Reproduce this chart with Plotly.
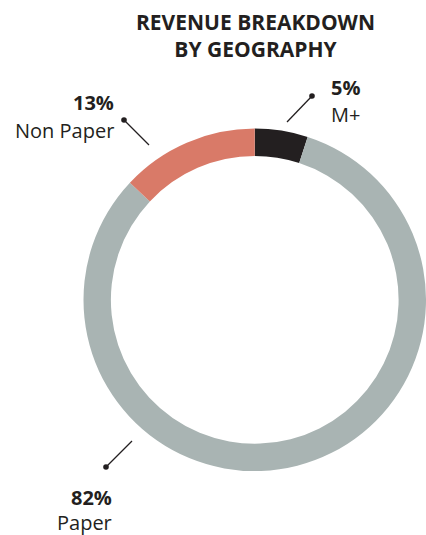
import plotly.graph_objects as go

# Revenue share by segment, listed clockwise from 12 o'clock
segments = ["M+", "Paper", "Non Paper"]
shares = [5, 82, 13]
colors = ["#231f20", "#a9b4b3", "#d97a68"]

W, H = 426, 535


def px(x):
    return x / W


def py(y):
    return 1 - y / H


fig = go.Figure(
    go.Pie(
        labels=segments,
        values=shares,
        hole=0.84,
        sort=False,
        direction="clockwise",
        rotation=0,
        marker=dict(colors=colors, line=dict(width=0)),
        textinfo="none",
        hoverinfo="label+percent",
        domain=dict(x=[0.196, 1.0], y=[0.118, 0.761]),
        showlegend=False,
    )
)

# Callout placement for each segment: text anchor, line gap, leader line (dot end first)
callouts = {
    "Non Paper": dict(tx=115, ty=102, gap=28, align="right", dot=(124, 120), end=(149, 145)),
    "M+": dict(tx=345, ty=88, gap=26, align="center", dot=(312, 96), end=(287, 122)),
    "Paper": dict(tx=113, ty=497, gap=25, align="right", dot=(106, 467), end=(132, 441)),
}

FONT = "Open Sans"
annotations = []
shapes = []
for name, share in zip(segments, shares):
    c = callouts[name]
    anchor = c["align"]
    annotations.append(
        dict(
            x=px(c["tx"]), y=py(c["ty"]), xref="paper", yref="paper",
            text=f"<b>{share}%</b>", showarrow=False, xanchor=anchor, yanchor="middle",
            borderpad=0, font=dict(family=FONT, size=20, color="#231f20"),
        )
    )
    annotations.append(
        dict(
            x=px(c["tx"]), y=py(c["ty"] + c["gap"]), xref="paper", yref="paper",
            text=name, showarrow=False, xanchor=anchor, yanchor="middle",
            borderpad=0, font=dict(family=FONT, size=20, color="#231f20"),
        )
    )
    (x0, y0), (x1, y1) = c["dot"], c["end"]
    shapes.append(
        dict(type="line", xref="paper", yref="paper",
             x0=px(x0), y0=py(y0), x1=px(x1), y1=py(y1),
             line=dict(color="#231f20", width=1.3))
    )
    r = 2.8
    shapes.append(
        dict(type="circle", xref="paper", yref="paper",
             x0=px(x0 - r), y0=py(y0 - r), x1=px(x0 + r), y1=py(y0 + r),
             fillcolor="#231f20", line=dict(width=0))
    )

annotations.append(
    dict(
        x=px(255), y=py(35), xref="paper", yref="paper",
        text="<b>REVENUE BREAKDOWN<br>BY GEOGRAPHY</b>", showarrow=False,
        xanchor="center", yanchor="middle", borderpad=0,
        font=dict(family=FONT, size=21, color="#231f20"),
    )
)

fig.update_layout(
    width=W, height=H,
    margin=dict(l=0, r=0, t=0, b=0),
    paper_bgcolor="white", plot_bgcolor="white",
    annotations=annotations, shapes=shapes,
)

fig.write_html("out.html")
